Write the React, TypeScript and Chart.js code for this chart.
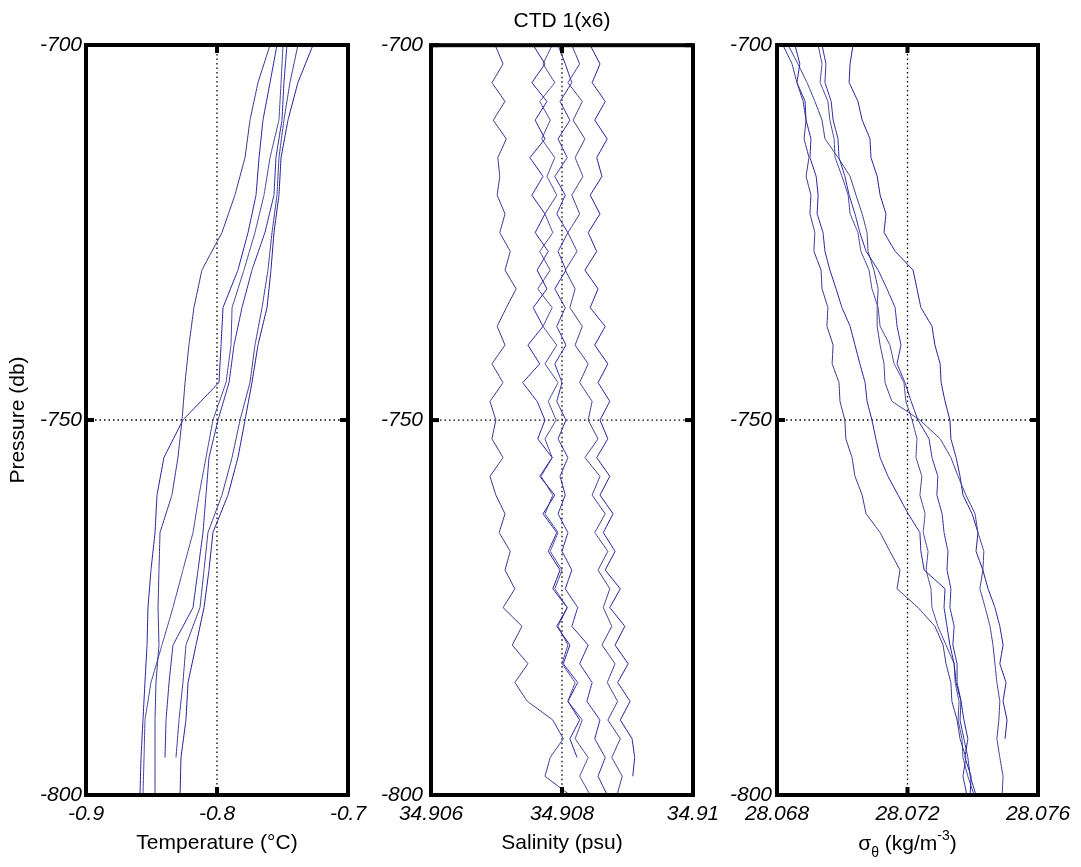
import React, { useEffect, useRef } from "react";
import { Chart, registerables } from "chart.js";

Chart.register(...registerables);

const FONT = '"Liberation Sans", Arial, Helvetica, sans-serif';
const W = 1081;
const H = 867;

// Pressure levels (db)
const PRESSURE_COARSE = [-700, -705, -710, -715, -720, -725, -730, -735, -740, -745, -750, -755, -760, -765, -770, -775, -780, -785, -790, -795, -800];
const PRESSURE_FINE = [-700, -702.5, -705, -707.5, -710, -712.5, -715, -717.5, -720, -722.5, -725, -727.5, -730, -732.5, -735, -737.5, -740, -742.5, -745, -747.5, -750, -752.5, -755, -757.5, -760, -762.5, -765, -767.5, -770, -772.5, -775, -777.5, -780, -782.5, -785, -787.5, -790, -792.5, -795, -797.5, -800];

const PRESSURE_TICKS = [-800, -750, -700];
const PRESSURE_TICK_LABELS = ["-800", "-750", "-700"];
const TEMP_TICKS = [-0.9, -0.8, -0.7];
const TEMP_TICK_LABELS = ["-0.9", "-0.8", "-0.7"];
const SAL_TICKS = [34.906, 34.908, 34.91];
const SAL_TICK_LABELS = ["34.906", "34.908", "34.91"];
const SIG_TICKS = [28.068, 28.072, 28.076];
const SIG_TICK_LABELS = ["28.068", "28.072", "28.076"];

// Temperature profiles (°C) on PRESSURE_COARSE
const TEMP_1 = [-0.7595, -0.7687, -0.7748, -0.7786, -0.7863, -0.7962, -0.8115, -0.8176, -0.8214, -0.8244, -0.8267, -0.8298, -0.8344, -0.8435, -0.8443, -0.8450, -0.8443, -0.8466, -0.8473, -0.8473, -0.8473];
const TEMP_2 = [-0.7542, -0.7595, -0.7649, -0.7679, -0.7702, -0.7763, -0.7840, -0.7954, -0.7969, -0.7985, -0.8260, -0.8405, -0.8458, -0.8473, -0.8504, -0.8527, -0.8534, -0.8550, -0.8565, -0.8580, -0.8588];
const TEMP_3 = [-0.7496, -0.7511, -0.7527, -0.7595, -0.7641, -0.7710, -0.7794, -0.7885, -0.7893, -0.7931, -0.8031, -0.8084, -0.8137, -0.8183, -0.8260, -0.8336, -0.8420, -0.8504, -0.8550, -0.8557, -0.8565];
const TEMP_4 = [-0.7466, -0.7489, -0.7504, -0.7550, -0.7565, -0.7634, -0.7733, -0.7809, -0.7870, -0.7908, -0.7992, -0.8061, -0.8084, -0.8107, -0.8145, -0.8183, -0.8336, -0.8366, -0.8389, -0.8397, null];
const TEMP_5 = [-0.7382, -0.7443, -0.7489, -0.7527, -0.7542, -0.7580, -0.7611, -0.7656, -0.7710, -0.7748, -0.7824, -0.7885, -0.7962, -0.8069, -0.8099, -0.8130, -0.8237, -0.8260, -0.8290, -0.8313, null];
const TEMP_6 = [-0.7267, -0.7382, -0.7458, -0.7511, -0.7527, -0.7565, -0.7588, -0.7618, -0.7687, -0.7733, -0.7786, -0.7840, -0.7916, -0.8031, -0.8061, -0.8099, -0.8160, -0.8221, -0.8237, -0.8275, -0.8282];

// Salinity profiles (psu) on PRESSURE_FINE
const SAL_1 = [34.90698, 34.90710, 34.90693, 34.90713, 34.90695, 34.90715, 34.90702, 34.90705, 34.90701, 34.90713, 34.90705, 34.90721, 34.90713, 34.90730, 34.90715, 34.90701, 34.90713, 34.90693, 34.90710, 34.90690, 34.90699, 34.90693, 34.90710, 34.90690, 34.90699, 34.90713, 34.90704, 34.90721, 34.90713, 34.90728, 34.90710, 34.90739, 34.90724, 34.90748, 34.90728, 34.90747, 34.90786, 34.90802, 34.90782, 34.90774, 34.90812];
const SAL_2 = [34.90756, 34.90774, 34.90754, 34.90777, 34.90759, 34.90774, 34.90751, 34.90771, 34.90754, 34.90774, 34.90759, 34.90779, 34.90762, 34.90777, 34.90756, 34.90771, 34.90748, 34.90766, 34.90740, 34.90762, 34.90774, 34.90763, 34.90785, 34.90766, 34.90789, 34.90771, 34.90792, 34.90779, 34.90797, 34.90786, 34.90808, 34.90792, 34.90812, 34.90802, 34.90824, 34.90809, 34.90827, 34.90812, 34.90823, null, null];
const SAL_3 = [34.90785, 34.90771, 34.90789, 34.90766, 34.90782, 34.90769, 34.90789, 34.90777, 34.90792, 34.90774, 34.90786, 34.90766, 34.90782, 34.90763, 34.90785, 34.90771, 34.90792, 34.90774, 34.90794, 34.90779, 34.90791, 34.90774, 34.90785, 34.90768, 34.90786, 34.90774, 34.90794, 34.90782, 34.90800, 34.90789, 34.90808, 34.90794, 34.90809, 34.90800, 34.90820, 34.90809, 34.90831, 34.90820, 34.90840, 34.90827, 34.90843];
const SAL_4 = [34.90794, 34.90805, 34.90815, 34.90797, 34.90812, 34.90794, 34.90808, 34.90789, 34.90805, 34.90792, 34.90809, 34.90794, 34.90806, 34.90789, 34.90805, 34.90792, 34.90806, 34.90789, 34.90800, 34.90792, 34.90806, 34.90794, 34.90809, 34.90797, 34.90805, 34.90794, 34.90809, 34.90800, 34.90815, 34.90805, 34.90824, 34.90815, 34.90840, 34.90827, 34.90846, 34.90838, 34.90858, 34.90850, 34.90866, 34.90855, 34.90869];
const SAL_5 = [34.90815, 34.90827, 34.90809, 34.90831, 34.90817, 34.90835, 34.90820, 34.90832, 34.90815, 34.90827, 34.90809, 34.90823, 34.90805, 34.90820, 34.90812, 34.90831, 34.90820, 34.90840, 34.90827, 34.90846, 34.90840, 34.90855, 34.90835, 34.90858, 34.90846, 34.90866, 34.90850, 34.90870, 34.90855, 34.90873, 34.90863, 34.90876, 34.90861, 34.90881, 34.90869, 34.90885, 34.90870, 34.90889, 34.90876, 34.90892, 34.90884];
const SAL_6 = [34.90843, 34.90858, 34.90846, 34.90866, 34.90850, 34.90869, 34.90853, 34.90861, 34.90843, 34.90858, 34.90840, 34.90853, 34.90835, 34.90855, 34.90843, 34.90866, 34.90850, 34.90870, 34.90855, 34.90873, 34.90858, 34.90870, 34.90853, 34.90873, 34.90858, 34.90878, 34.90863, 34.90881, 34.90866, 34.90889, 34.90873, 34.90896, 34.90881, 34.90901, 34.90885, 34.90904, 34.90889, 34.90907, 34.90911, 34.90908, null];

// Potential density profiles (kg/m^3) on PRESSURE_FINE
const SIG_1 = [28.06818, 28.06846, 28.06861, 28.06880, 28.06889, 28.06883, 28.06898, 28.06889, 28.06904, 28.06901, 28.06916, 28.06913, 28.06935, 28.06938, 28.06956, 28.06953, 28.06972, 28.06969, 28.06990, 28.06993, 28.07008, 28.07011, 28.07030, 28.07039, 28.07061, 28.07073, 28.07116, 28.07146, 28.07177, 28.07168, 28.07232, 28.07284, 28.07309, 28.07318, 28.07333, 28.07336, 28.07352, 28.07361, 28.07379, 28.07370, 28.07382];
const SIG_2 = [28.06855, 28.06870, 28.06861, 28.06886, 28.06889, 28.06904, 28.06901, 28.06920, 28.06926, 28.06923, 28.06941, 28.06947, 28.06962, 28.06981, 28.06999, 28.07024, 28.07039, 28.07054, 28.07070, 28.07076, 28.07091, 28.07103, 28.07116, 28.07140, 28.07171, 28.07202, 28.07238, 28.07241, 28.07251, 28.07315, 28.07312, 28.07321, 28.07330, 28.07343, 28.07349, 28.07364, 28.07373, 28.07385, 28.07376, 28.07395, 28.07392];
const SIG_3 = [28.06926, 28.06938, 28.06932, 28.06956, 28.06962, 28.06975, 28.06978, 28.06999, 28.07018, 28.07024, 28.07048, 28.07057, 28.07082, 28.07091, 28.07110, 28.07116, 28.07146, 28.07159, 28.07189, 28.07195, 28.07214, 28.07229, 28.07226, 28.07244, 28.07238, 28.07254, 28.07248, 28.07263, 28.07257, 28.07272, 28.07275, 28.07293, 28.07318, 28.07343, 28.07346, 28.07358, 28.07355, 28.07367, 28.07370, 28.07385, 28.07404];
const SIG_4 = [28.06938, 28.06950, 28.06947, 28.06966, 28.06972, 28.06987, 28.06990, 28.07008, 28.07021, 28.07039, 28.07054, 28.07073, 28.07110, 28.07137, 28.07162, 28.07168, 28.07180, 28.07168, 28.07192, 28.07211, 28.07232, 28.07266, 28.07275, 28.07293, 28.07290, 28.07306, 28.07312, 28.07324, 28.07321, 28.07333, 28.07330, 28.07343, 28.07339, 28.07352, 28.07352, 28.07364, 28.07361, 28.07373, 28.07385, 28.07392, 28.07410];
const SIG_5 = [28.06834, 28.06864, 28.06892, 28.06916, 28.06938, 28.06947, 28.06987, 28.07024, 28.07042, 28.07061, 28.07076, 28.07079, 28.07097, 28.07110, 28.07107, 28.07107, 28.07116, 28.07128, 28.07131, 28.07152, 28.07238, 28.07300, 28.07333, 28.07355, 28.07379, 28.07407, 28.07416, 28.07434, 28.07431, 28.07422, 28.07438, 28.07453, 28.07462, 28.07468, 28.07474, 28.07483, 28.07480, 28.07474, 28.07483, 28.07493, 28.07490];
const SIG_6 = [28.07033, 28.07024, 28.07021, 28.07048, 28.07061, 28.07085, 28.07088, 28.07107, 28.07116, 28.07134, 28.07128, 28.07162, 28.07217, 28.07229, 28.07241, 28.07275, 28.07284, 28.07300, 28.07303, 28.07315, 28.07330, 28.07333, 28.07349, 28.07361, 28.07370, 28.07398, 28.07416, 28.07410, 28.07431, 28.07447, 28.07468, 28.07483, 28.07493, 28.07483, 28.07502, 28.07493, 28.07505, 28.07499, null, null, null];

const LINE_COLORS = ["#33338f", "#2020a0", "#46469a", "#2a2a9e", "#3d3d92", "#1c1c96"];

const framePlugin = {
  id: "matlabFrame",
  beforeDatasetsDraw(chart: any) {
    const { ctx, chartArea: a, scales } = chart;
    const xs = scales.x;
    const ys = scales.y;
    const xm = xs.getPixelForValue(xs.ticks[1].value);
    const ym = ys.getPixelForValue(ys.ticks[1].value);
    ctx.save();
    ctx.strokeStyle = "#000";
    ctx.lineWidth = 1.3;
    ctx.setLineDash([1.5, 3]);
    ctx.beginPath();
    ctx.moveTo(xm, a.top);
    ctx.lineTo(xm, a.bottom);
    ctx.moveTo(a.left, ym);
    ctx.lineTo(a.right, ym);
    ctx.stroke();
    ctx.restore();
  },
  afterDatasetsDraw(chart: any) {
    const { ctx, chartArea: a, scales } = chart;
    const xs = scales.x;
    const ys = scales.y;
    ctx.save();
    ctx.fillStyle = "#000";
    const len = 8;
    const th = 4;
    xs.ticks.forEach((t: any) => {
      const px = xs.getPixelForValue(t.value);
      ctx.fillRect(px - th / 2, a.top, th, len);
      ctx.fillRect(px - th / 2, a.bottom - len, th, len);
    });
    ys.ticks.forEach((t: any) => {
      const py = ys.getPixelForValue(t.value);
      ctx.fillRect(a.left, py - th / 2, len, th);
      ctx.fillRect(a.right - len, py - th / 2, len, th);
    });
    ctx.strokeStyle = "#000";
    ctx.lineWidth = 4;
    ctx.setLineDash([]);
    ctx.strokeRect(a.left, a.top, a.right - a.left, a.bottom - a.top);
    ctx.restore();
  },
};

const sigmaTitlePlugin = {
  id: "sigmaTitle",
  afterDraw(chart: any) {
    const { ctx, chartArea: a, scales } = chart;
    const big = `21px ${FONT}`;
    const small = `14px ${FONT}`;
    const parts = [
      { t: "σ", f: big, dy: 0 },
      { t: "θ", f: small, dy: 7 },
      { t: " (kg/m", f: big, dy: 0 },
      { t: "-3", f: small, dy: -10 },
      { t: ")", f: big, dy: 0 },
    ];
    ctx.save();
    ctx.fillStyle = "#000";
    ctx.textBaseline = "alphabetic";
    ctx.textAlign = "left";
    let total = 0;
    const widths = parts.map((p) => {
      ctx.font = p.f;
      const w = ctx.measureText(p.t).width;
      total += w;
      return w;
    });
    let x = (a.left + a.right) / 2 - total / 2;
    const base = scales.x.bottom - 10;
    parts.forEach((p, i) => {
      ctx.font = p.f;
      ctx.fillText(p.t, x, base + p.dy);
      x += widths[i];
    });
    ctx.restore();
  },
};

type PanelSpec = {
  pressure: number[];
  lines: (number | null)[][];
  xTicks: number[];
  xLabels: string[];
  xTitle: string | null;
  yTitle: string | null;
  title: string | null;
  padLeft: number;
  padRight: number;
  padTop: number;
  yWidth: number;
  yPad: number;
  extra?: any;
};

function buildConfig(p: PanelSpec): any {
  const datasets = p.lines.map((vals, i) => ({
    data: vals
      .map((v, j) => (v === null ? null : { x: v, y: p.pressure[j] }))
      .filter((d) => d !== null),
    showLine: true,
    borderColor: LINE_COLORS[i % LINE_COLORS.length],
    borderWidth: 1,
    pointRadius: 0,
    pointHoverRadius: 0,
    fill: false,
    tension: 0.0001,
  }));
  return {
    type: "scatter",
    data: { datasets },
    options: {
      responsive: false,
      animation: false,
      devicePixelRatio: 1,
      events: [],
      layout: { padding: { left: p.padLeft, right: p.padRight, top: p.padTop, bottom: 7 } },
      plugins: {
        legend: { display: false },
        tooltip: { enabled: false },
        title: p.title
          ? {
              display: true,
              text: p.title,
              fullSize: false,
              color: "#000",
              font: { family: FONT, size: 21, weight: "normal" },
              padding: { top: 9, bottom: 11 },
            }
          : { display: false },
      },
      scales: {
        x: {
          type: "linear",
          position: "bottom",
          min: p.xTicks[0],
          max: p.xTicks[p.xTicks.length - 1],
          afterBuildTicks: (s: any) => {
            s.ticks = p.xTicks.map((v) => ({ value: v }));
          },
          afterFit: (s: any) => {
            s.height = 65;
          },
          grid: { display: false, drawTicks: false },
          border: { display: false },
          ticks: {
            callback: (_v: any, i: number) => p.xLabels[i],
            font: { family: FONT, size: 21, style: "italic" },
            color: "#000",
            padding: 7,
            maxRotation: 0,
            autoSkip: false,
          },
          title: p.xTitle
            ? {
                display: true,
                text: p.xTitle,
                color: "#000",
                font: { family: FONT, size: 21 },
                padding: { top: 0, bottom: 4 },
              }
            : { display: false },
        },
        y: {
          type: "linear",
          position: "left",
          min: PRESSURE_TICKS[0],
          max: PRESSURE_TICKS[PRESSURE_TICKS.length - 1],
          afterBuildTicks: (s: any) => {
            s.ticks = PRESSURE_TICKS.map((v) => ({ value: v }));
          },
          afterFit: (s: any) => {
            s.width = p.yWidth;
          },
          grid: { display: false, drawTicks: false },
          border: { display: false },
          ticks: {
            callback: (_v: any, i: number) => PRESSURE_TICK_LABELS[i],
            font: { family: FONT, size: 21, style: "italic" },
            color: "#000",
            padding: p.yPad,
            autoSkip: false,
          },
          title: p.yTitle
            ? {
                display: true,
                text: p.yTitle,
                color: "#000",
                font: { family: FONT, size: 21 },
                padding: { top: 6, bottom: 0 },
              }
            : { display: false },
        },
      },
    },
    plugins: p.extra ? [framePlugin, p.extra] : [framePlugin],
  };
}

const PANELS: PanelSpec[] = [
  {
    pressure: PRESSURE_COARSE,
    lines: [TEMP_1, TEMP_2, TEMP_3, TEMP_4, TEMP_5, TEMP_6],
    xTicks: TEMP_TICKS,
    xLabels: TEMP_TICK_LABELS,
    xTitle: "Temperature (°C)",
    yTitle: "Pressure (db)",
    title: null,
    padLeft: 0,
    padRight: 733,
    padTop: 45,
    yWidth: 86,
    yPad: 4,
  },
  {
    pressure: PRESSURE_FINE,
    lines: [SAL_1, SAL_2, SAL_3, SAL_4, SAL_5, SAL_6],
    xTicks: SAL_TICKS,
    xLabels: SAL_TICK_LABELS,
    xTitle: "Salinity (psu)",
    yTitle: null,
    title: "CTD 1(x6)",
    padLeft: 371,
    padRight: 388,
    padTop: 0,
    yWidth: 60,
    yPad: 8,
  },
  {
    pressure: PRESSURE_FINE,
    lines: [SIG_1, SIG_2, SIG_3, SIG_4, SIG_5, SIG_6],
    xTicks: SIG_TICKS,
    xLabels: SIG_TICK_LABELS,
    xTitle: null,
    yTitle: null,
    title: null,
    padLeft: 717,
    padRight: 43,
    padTop: 45,
    yWidth: 60,
    yPad: 5,
    extra: sigmaTitlePlugin,
  },
];

function Panel({ spec }: { spec: PanelSpec }) {
  const ref = useRef<HTMLCanvasElement | null>(null);
  useEffect(() => {
    if (!ref.current) return;
    const chart = new Chart(ref.current, buildConfig(spec));
    return () => chart.destroy();
  }, [spec]);
  return (
    <canvas
      ref={ref}
      width={W}
      height={H}
      style={{ position: "absolute", left: 0, top: 0, width: W, height: H }}
    />
  );
}

export default function App() {
  return (
    <div
      style={{
        position: "absolute",
        left: 0,
        top: 0,
        width: W,
        height: H,
        background: "#fff",
        overflow: "hidden",
      }}
    >
      {PANELS.map((spec, i) => (
        <Panel key={i} spec={spec} />
      ))}
    </div>
  );
}
